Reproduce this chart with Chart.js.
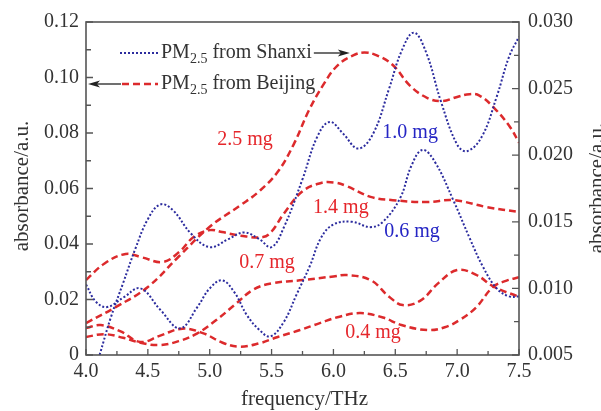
<!DOCTYPE html>
<html><head><meta charset="utf-8">
<script src="https://cdn.jsdelivr.net/npm/chart.js@4/dist/chart.umd.min.js"></script>
<style>html,body{margin:0;padding:0;background:#fff;}#wrap{width:601px;height:411px;}</style>
</head><body><div id="wrap"><canvas id="c" width="601" height="411"></canvas></div>
<script>
// Tick labels
const xTickLabels = ['4.0','4.5','5.0','5.5','6.0','6.5','7.0','7.5'];
const leftTickLabels = ['0','0.02','0.04','0.06','0.08','0.10','0.12'];
const rightTickLabels = ['0.005','0.010','0.015','0.020','0.025','0.030'];

// PM2.5 from Beijing (left axis)
const bj25Freq = [4.0,4.25,4.5,4.75,5.0,5.25,5.4,5.55,5.68,5.8,5.92,6.03,6.16,6.25,6.35,6.48,6.62,6.76,6.88,7.0,7.1,7.18,7.3,7.43,7.5];
const bj25Abs  = [0.0115,0.0175,0.0245,0.0355,0.0462,0.054,0.059,0.066,0.076,0.088,0.0975,0.1042,0.108,0.109,0.108,0.1045,0.097,0.0926,0.0915,0.093,0.094,0.0935,0.089,0.082,0.0765];
const bj14Freq = [4.0,4.15,4.32,4.45,4.62,4.75,4.87,5.0,5.1,5.25,5.43,5.5,5.6,5.75,5.9,6.0,6.1,6.3,6.48,6.76,6.97,7.24,7.5];
const bj14Abs  = [0.027,0.033,0.0364,0.0352,0.0335,0.037,0.0425,0.045,0.0443,0.043,0.0425,0.0445,0.051,0.059,0.062,0.0622,0.061,0.057,0.0558,0.0551,0.0558,0.0533,0.0515];
const bj07Freq = [4.0,4.15,4.3,4.45,4.6,4.75,4.9,5.05,5.2,5.35,5.5,5.75,6.0,6.11,6.3,6.45,6.56,6.7,6.85,7.0,7.15,7.3,7.5];
const bj07Abs  = [0.0065,0.0075,0.0062,0.0043,0.0036,0.005,0.0078,0.0125,0.018,0.0235,0.0258,0.027,0.0283,0.0288,0.027,0.021,0.018,0.0195,0.026,0.0306,0.029,0.0245,0.021];
const bj04Freq = [4.0,4.12,4.28,4.44,4.6,4.78,4.95,5.1,5.24,5.4,5.55,5.73,5.89,6.05,6.22,6.4,6.55,6.76,6.9,7.02,7.15,7.29,7.4,7.5];
const bj04Abs  = [0.0097,0.0108,0.0085,0.0047,0.007,0.0095,0.0078,0.0045,0.003,0.0042,0.0065,0.009,0.0115,0.0138,0.0151,0.0135,0.0108,0.009,0.01,0.0126,0.017,0.0245,0.0268,0.028];

// PM2.5 from Shanxi (right axis)
const sx10Freq = [4.11,4.2,4.3,4.4,4.5,4.6,4.7,4.85,5.0,5.15,5.28,5.4,5.5,5.6,5.75,5.87,5.97,6.08,6.2,6.32,6.45,6.55,6.65,6.75,6.87,7.0,7.08,7.2,7.32,7.42,7.5];
const sx10Abs  = [0.005,0.0078,0.0104,0.0130,0.0152,0.0163,0.0159,0.0141,0.0131,0.0137,0.0142,0.0137,0.0131,0.0146,0.0182,0.0214,0.0225,0.0216,0.0205,0.0216,0.0250,0.0278,0.0292,0.0277,0.0240,0.0208,0.0203,0.0214,0.0244,0.0274,0.0289];
const sx06Freq = [4.0,4.08,4.17,4.3,4.44,4.6,4.76,4.9,5.0,5.1,5.2,5.3,5.4,5.49,5.6,5.7,5.81,5.9,6.0,6.15,6.3,6.4,6.54,6.63,6.72,6.82,6.97,7.1,7.21,7.32,7.42,7.5];
const sx06Abs  = [0.0103,0.009,0.0086,0.0093,0.0100,0.0084,0.0070,0.0086,0.0100,0.0106,0.0097,0.0080,0.0069,0.0064,0.0075,0.0095,0.0117,0.0138,0.0148,0.015,0.0146,0.015,0.0168,0.0192,0.0204,0.0195,0.0166,0.0138,0.0116,0.0100,0.0094,0.0094];

// Mass labels [text, freq, left-axis value, colour key]
const massLabels = [
  ['2.5 mg', 5.285, 0.0775, 'red'],
  ['1.0 mg', 6.62, 0.080, 'blue'],
  ['1.4 mg', 6.06, 0.053, 'red'],
  ['0.6 mg', 6.635, 0.0443, 'blue'],
  ['0.7 mg', 5.463, 0.0332, 'red'],
  ['0.4 mg', 6.32, 0.0079, 'red']
];

const RED = '#dc2a2c', BLUE = '#2c2c9e';
const RED_TXT = '#e5262b', BLUE_TXT = '#2525c4';
const FONT = "'Liberation Serif', 'Times New Roman', serif";
const AX = '#555';
const TXT = '#333';

const pts = (f, a) => f.map((x, i) => ({x, y: a[i]}));
const red = (f, a) => ({data: pts(f, a), yAxisID: 'y', borderColor: RED, borderWidth: 2.5, borderDash: [7, 4], pointRadius: 0, tension: 0.4, fill: false});
const blue = (f, a) => ({data: pts(f, a), yAxisID: 'y2', borderColor: BLUE, borderWidth: 2, borderDash: [2, 2], pointRadius: 0, tension: 0.4, fill: false});

function arrow(ctx, x1, y, x2) {
  const dir = Math.sign(x2 - x1);
  ctx.save();
  ctx.strokeStyle = '#222'; ctx.fillStyle = '#222'; ctx.lineWidth = 1.3; ctx.setLineDash([]);
  ctx.beginPath(); ctx.moveTo(x1, y); ctx.lineTo(x2 - dir * 8, y); ctx.stroke();
  ctx.beginPath(); ctx.moveTo(x2, y); ctx.lineTo(x2 - dir * 12, y - 3.5); ctx.lineTo(x2 - dir * 9, y); ctx.lineTo(x2 - dir * 12, y + 3.5); ctx.closePath(); ctx.fill();
  ctx.restore();
}
function pmText(ctx, x, y, rest) {
  ctx.save();
  ctx.fillStyle = TXT; ctx.textBaseline = 'middle'; ctx.textAlign = 'left';
  ctx.font = '20px ' + FONT; ctx.fillText('PM', x, y); x += ctx.measureText('PM').width;
  ctx.font = '14px ' + FONT; ctx.fillText('2.5', x, y + 6); x += ctx.measureText('2.5').width;
  ctx.font = '20px ' + FONT; ctx.fillText(rest, x, y); x += ctx.measureText(rest).width;
  ctx.restore();
  return x;
}

const decor = {
  id: 'decor',
  afterDraw(chart) {
    const {ctx, chartArea: a, scales} = chart;
    const sx = scales.x, sl = scales.y, sr = scales.y2;
    ctx.save();
    // frame
    ctx.strokeStyle = AX; ctx.lineWidth = 1.6; ctx.setLineDash([]);
    ctx.strokeRect(a.left, a.top, a.right - a.left, a.bottom - a.top);
    // inward ticks
    ctx.lineWidth = 1.3;
    ctx.beginPath();
    for (let i = 0; i <= 14; i++) {
      const v = 4 + i * 0.25, p = sx.getPixelForValue(v), len = i % 2 ? 4 : 6;
      ctx.moveTo(p, a.bottom); ctx.lineTo(p, a.bottom - len);
    }
    for (let i = 0; i <= 12; i++) {
      const p = sl.getPixelForValue(i * 0.01), len = i % 2 ? 5 : 7;
      ctx.moveTo(a.left, p); ctx.lineTo(a.left + len, p);
    }
    for (let i = 0; i <= 10; i++) {
      const p = sr.getPixelForValue(0.005 + i * 0.0025), len = i % 2 ? 5 : 7;
      ctx.moveTo(a.right, p); ctx.lineTo(a.right - len, p);
    }
    ctx.stroke();
    // axis titles
    ctx.fillStyle = TXT; ctx.font = '21px ' + FONT; ctx.textAlign = 'center'; ctx.textBaseline = 'middle';
    ctx.fillText('frequency/THz', (a.left + a.right) / 2 + 2, 399);
    ctx.save(); ctx.translate(22, 186); ctx.rotate(-Math.PI / 2); ctx.fillText('absorbance/a.u.', 0, 0); ctx.restore();
    ctx.save(); ctx.translate(597, 188); ctx.rotate(-Math.PI / 2); ctx.fillText('absorbance/a.u.', 0, 0); ctx.restore();
    // legend
    const y1 = 53, y2 = 84;
    ctx.lineWidth = 2; ctx.strokeStyle = BLUE; ctx.setLineDash([2, 2]);
    ctx.beginPath(); ctx.moveTo(120, y1); ctx.lineTo(158, y1); ctx.stroke();
    ctx.lineWidth = 2.5; ctx.strokeStyle = RED; ctx.setLineDash([7, 4]);
    ctx.beginPath(); ctx.moveTo(122, y2); ctx.lineTo(158, y2); ctx.stroke();
    ctx.setLineDash([]);
    const e1 = pmText(ctx, 161, y1, ' from Shanxi');
    pmText(ctx, 161, y2, ' from Beijing');
    arrow(ctx, e1 + 2, y1, e1 + 38);
    arrow(ctx, 121, y2, a.left + 2);
    // mass labels
    ctx.font = '20px ' + FONT; ctx.textAlign = 'center'; ctx.textBaseline = 'middle';
    for (const [t, f, v, c] of massLabels) {
      ctx.fillStyle = c === 'red' ? RED_TXT : BLUE_TXT;
      ctx.fillText(t, sx.getPixelForValue(f), sl.getPixelForValue(v));
    }
    ctx.restore();
  }
};

const tickFont = {family: FONT, size: 20};
new Chart(document.getElementById('c'), {
  type: 'line',
  data: {datasets: [
    blue(sx10Freq, sx10Abs), blue(sx06Freq, sx06Abs),
    red(bj25Freq, bj25Abs), red(bj14Freq, bj14Abs), red(bj07Freq, bj07Abs), red(bj04Freq, bj04Abs)
  ]},
  options: {
    responsive: false, animation: false, devicePixelRatio: 1,
    layout: {padding: {top: 22, left: 0, right: 0, bottom: 0}},
    plugins: {legend: {display: false}, tooltip: {enabled: false}},
    scales: {
      x: {type: 'linear', min: 4, max: 7.5,
        grid: {display: false, drawTicks: false}, border: {display: false},
        ticks: {stepSize: 0.5, autoSkip: false, maxRotation: 0, padding: 5, color: TXT, font: tickFont,
          callback: (v, i) => xTickLabels[i]},
        afterFit: s => { s.height = 56; }},
      y: {type: 'linear', position: 'left', min: 0, max: 0.12,
        grid: {display: false, drawTicks: false}, border: {display: false},
        ticks: {stepSize: 0.02, autoSkip: false, padding: 7, color: TXT, font: tickFont,
          callback: (v, i) => leftTickLabels[i]},
        afterFit: s => { s.width = 86; }},
      y2: {type: 'linear', position: 'right', min: 0.005, max: 0.03,
        grid: {display: false, drawTicks: false}, border: {display: false},
        ticks: {stepSize: 0.005, autoSkip: false, padding: 9, color: TXT, font: tickFont,
          callback: (v, i) => rightTickLabels[i]},
        afterFit: s => { s.width = 82; }}
    }
  },
  plugins: [decor]
});
</script></body></html>
